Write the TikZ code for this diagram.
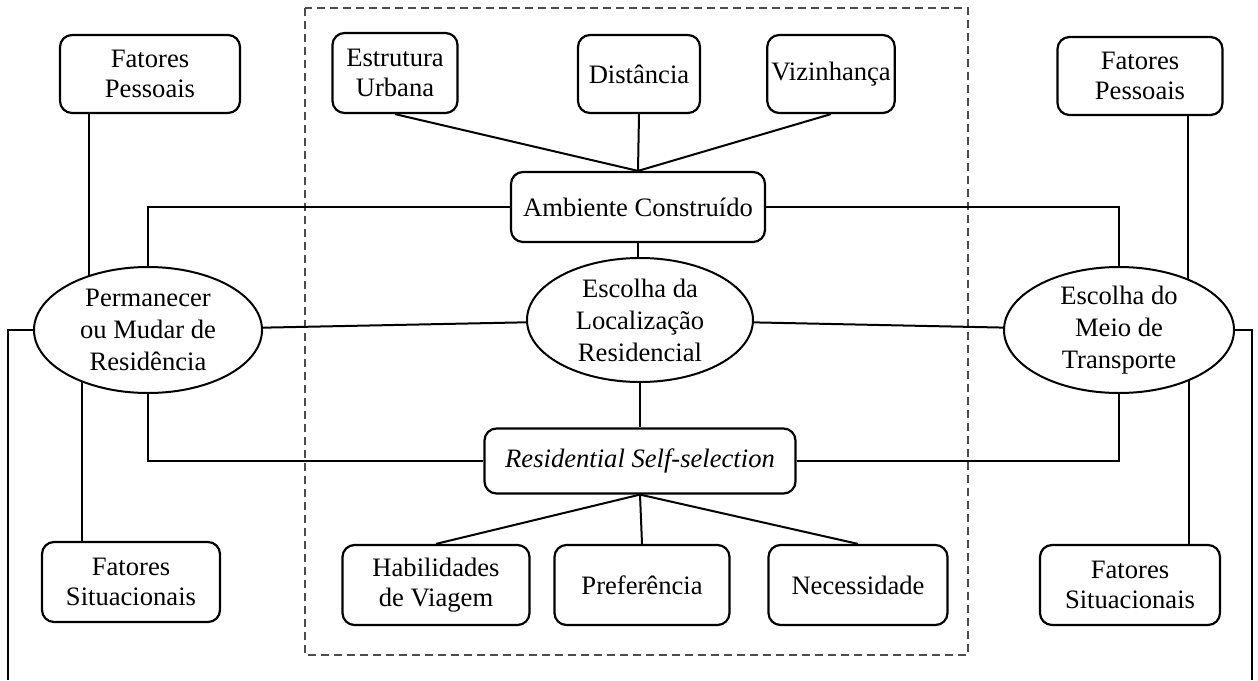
\documentclass[tikz,border=0pt]{standalone}
\usepackage{fontspec}
\setmainfont{Liberation Serif}
\usetikzlibrary{shapes.geometric,backgrounds}
\begin{document}
\begin{tikzpicture}[x=0.5pt,y=-0.5pt,
  every node/.style={font=\fontsize{13.3}{15}\selectfont},
  rbox/.style={draw, line width=1.1pt, rounded corners=6pt, fill=white, align=center, inner sep=2pt},
  oval/.style={draw, ellipse, line width=1pt, fill=white, inner sep=0pt},
  ovaltext/.style={align=center, font=\fontsize{13.3}{16}\selectfont},
  link/.style={line width=1pt},
  frame/.style={line width=0.6pt, draw=black!70, dash pattern=on 4pt off 2.5pt}]
\useasboundingbox (0,0) rectangle (1258,680);

% built environment attributes
\node[rbox, minimum width=62.5pt, minimum height=40pt] (estr) at (395,73) {Estrutura\\Urbana};
\node[rbox, minimum width=61pt, minimum height=39pt] (dist) at (639,74) {Distância};
\node[rbox, minimum width=62pt, minimum height=39pt] (viz) at (831,74) {Vizinhança};
\node[rbox, minimum width=127pt, minimum height=35pt] (amb) at (638,207) {Ambiente Construído};

% central choice and self-selection
\node[oval, minimum width=113pt, minimum height=62pt] (esc) at (640,320) {};
\node[ovaltext] at (esc) {Escolha da\\Localização\\Residencial};
\node[rbox, minimum width=155.5pt, minimum height=32.5pt] (rss) at (640,461) {\itshape Residential Self-selection};
\node[rbox, minimum width=93.5pt, minimum height=40pt] (hab) at (436,585) {Habilidades\\de Viagem};
\node[rbox, minimum width=87.5pt, minimum height=40pt] (pref) at (642,585) {Preferência};
\node[rbox, minimum width=89.5pt, minimum height=40pt] (nec) at (858,585) {Necessidade};

% left side
\node[rbox, minimum width=90pt, minimum height=39pt] (fpL) at (150,74) {Fatores\\Pessoais};
\node[oval, minimum width=114pt, minimum height=63pt] (perm) at (148,330) {};
\node[ovaltext] at (perm) {Permanecer\\ou Mudar de\\Residência};
\node[rbox, minimum width=89pt, minimum height=40pt] (fsL) at (131,582) {Fatores\\Situacionais};

% right side
\node[rbox, minimum width=82.5pt, minimum height=39pt] (fpR) at (1140,76) {Fatores\\Pessoais};
\node[oval, minimum width=115pt, minimum height=63pt] (meio) at (1119,330) {};
\node[ovaltext] at (meio) {Escolha do\\Meio de\\Transporte};
\node[rbox, minimum width=90pt, minimum height=40pt] (fsR) at (1130,585) {Fatores\\Situacionais};

\coordinate (outL) at (8,680);
\coordinate (outR) at (1252,680);

\begin{scope}[on background layer]
  \draw[frame] (305,8) rectangle (968,655);
  \draw[link] (estr.south) -- (amb.north);
  \draw[link] (dist.south) -- (amb.north);
  \draw[link] (viz.south) -- (amb.north);
  \draw[link] (amb.south) -- (amb.south |- esc.center);
  \draw[link] (esc) -- (rss);
  \draw[link] (rss.south) -- (hab.north);
  \draw[link] (rss.south) -- (pref.north);
  \draw[link] (rss.south) -- (nec.north);
  \draw[link] (perm) -- (esc);
  \draw[link] (esc) -- (meio);
  \draw[link] (amb.west) -| (perm.center);
  \draw[link] (amb.east) -| (meio.center);
  \draw[link] (rss.west) -| (perm.center);
  \draw[link] (rss.east) -| (meio.center);
  \draw[link] (fpL.south -| 89,0) -- (perm.center -| 89,0);
  \draw[link] (fsL.north -| 82,0) -- (perm.center -| 82,0);
  \draw[link] (fpR.south -| 1188,0) -- (meio.center -| 1188,0);
  \draw[link] (fsR.north -| 1189,0) -- (meio.center -| 1189,0);
  \draw[link] (perm.west) -| (outL);
  \draw[link] (meio.east) -| (outR);
\end{scope}
\end{tikzpicture}
\end{document}
